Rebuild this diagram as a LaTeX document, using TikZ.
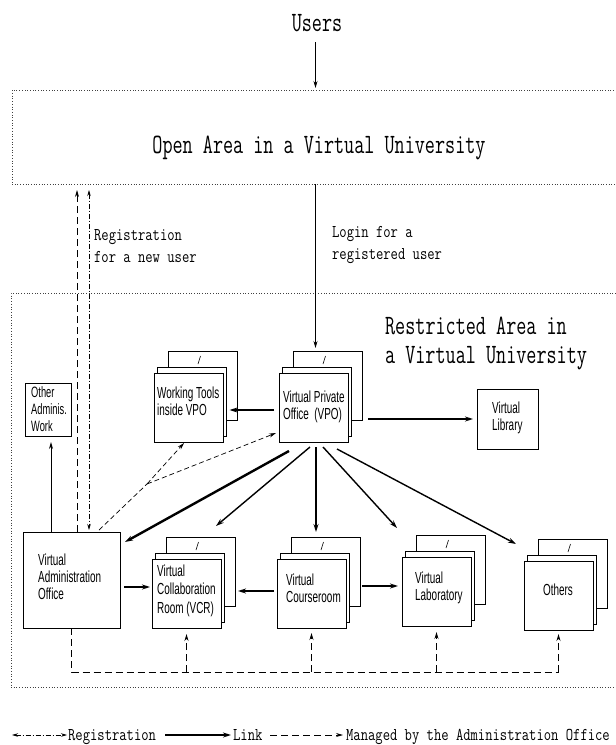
\documentclass[tikz,border=0pt]{standalone}
\usepackage{fontspec}
\newfontfamily\nsans[FakeStretch=0.62]{Liberation Sans}
\usetikzlibrary{arrows.meta,calc}
\tikzset{
 bx/.style={draw, fill=white, line width=0.8pt, minimum width=69pt, minimum height=69pt, inner sep=0pt, outer sep=0pt},
 sbox/.style={draw, fill=white, line width=0.8pt, inner sep=0pt, outer sep=0pt},
 area/.style={draw=black!75, dotted, line width=0.7pt, inner sep=0pt, outer sep=0pt},
 bigt/.style={font=\ttfamily\fontsize{28}{29}\selectfont, xscale=0.70, inner sep=0pt, align=left},
 smallt/.style={font=\ttfamily\fontsize{18}{22.5}\selectfont, xscale=0.79, inner sep=0pt, align=left},
 boxt/.style={font=\nsans\fontsize{16}{17.5}\selectfont, inner sep=0pt, align=left, anchor=base west},
 tip/.style={-{Stealth[length=7pt,width=4pt]}},
 thinarr/.style={tip, line width=0.8pt},
 link/.style={-{Stealth[length=8pt,width=5pt]}, line width=2pt},
 midlink/.style={-{Stealth[length=8pt,width=5pt]}, line width=1.4pt},
 reg/.style={dash pattern=on 5pt off 2pt on 1pt off 2pt, line width=0.7pt},
 mng/.style={dash pattern=on 7pt off 4pt, line width=0.8pt},
 mngs/.style={dash pattern=on 5pt off 3pt, line width=0.7pt},
}
\newcommand\mystack[3]{%
 \node[bx, anchor=north west] (#1-b) at (#2+14,#3-22) {};
 \node[bx, anchor=north west] (#1-m) at (#2+3.5,#3-5.5) {};
 \node[bx, anchor=north west] (#1) at (#2,#3) {};
 \draw[line width=0.6pt] (#2+44,#3-9) -- (#2+46.5,#3-17);
}
\begin{document}
\begin{tikzpicture}[x=1pt,y=-1pt]
\useasboundingbox (0,0) rectangle (616,745);
\clip (0,0) rectangle (616,745);
\fill[white] (0,0) rectangle (616,745);

% areas (multi-line nodes: base anchor = last line)
\node[area, minimum width=640pt, minimum height=94pt, anchor=north west] (open) at (12,90) {};
\node[bigt, anchor=base] (users) at (317,31) {Users};
\node[bigt, anchor=base] (opentxt) at (319,153) {Open Area in a Virtual University};
\node[area, minimum width=640pt, minimum height=394pt, anchor=north west] (restr) at (11,293) {};
\node[bigt, anchor=base west] (restrtxt) at (385,363) {Restricted Area in\\a Virtual University};
\node[smallt, anchor=base west] (regtxt) at (94,262.5) {Registration\\for a new user};
\node[smallt, anchor=base west] (logintxt) at (332,259.5) {Login for a\\registered user};

% stacks
\mystack{wt}{154}{373}
\mystack{vpo}{279}{373}
\mystack{vcr}{152}{559}
\mystack{vc}{277}{559}
\mystack{lab}{402}{557}
\mystack{oth}{524}{561}

% single boxes
\node[sbox, minimum width=46pt, minimum height=53pt, anchor=north west] (oaw) at (25,383) {};
\node[sbox, minimum width=61pt, minimum height=60pt, anchor=north west] (lib) at (477,389) {};
\node[sbox, minimum width=97pt, minimum height=96pt, anchor=north west] (vao) at (23,532) {};

% box texts
\node[boxt] (wttxt) at (157,415.5) {Working Tools\\inside VPO};
\node[boxt] (vpotxt) at (283,419.5) {Virtual Private\\Office~~(VPO)};
\node[boxt, font=\nsans\fontsize{16}{18.5}\selectfont] (vcrtxt) at (157,613) {Virtual\\Collaboration\\Room (VCR)};
\node[boxt] (vctxt) at (286,602.5) {Virtual\\Courseroom};
\node[boxt] (labtxt) at (415,600.5) {Virtual\\Laboratory};
\node[boxt, anchor=base] (othtxt) at (558,595) {Others};
\node[boxt, font=\nsans\fontsize{16}{17}\selectfont] (vaotxt) at (38,599) {Virtual\\Administration\\Office};
\node[boxt] (libtxt) at (492,430.5) {Virtual\\Library};
\node[boxt, font=\nsans\fontsize{15}{17}\selectfont] (oawtxt) at (31,431) {Other\\Adminis.\\Work};

% helper coordinates
\coordinate (cx) at (315.5,0);
\coordinate (r1) at (0,410);
\coordinate (r2) at (0,587);
\coordinate (r3) at (0,591);
\coordinate (r4) at (0,586);
\coordinate (ox) at (51,0);
\coordinate (rx) at (89,0);
\coordinate (mx) at (77,0);
\coordinate (br) at (147,484);
\coordinate (hb) at (0,672);

% top arrows
\draw[thinarr] ($(users.base -| cx)+(0,11)$) -- ($(open.north -| cx)+(0,-2)$);
\draw[thinarr] (open.south -| cx) -- ($(vpo-b.north -| cx)+(0,-3)$);

% links
\draw[link] ($(vpo.west |- r1)+(-5,0)$) -- ($(wt-m.east |- r1)+(3,0)$);
\draw[link] ($(vpo-b.east |- lib.west)+(6,0)$) -- ($(lib.west)+(-4,0)$);
\draw[link, line width=2.4pt] ($(vpo.south west)+(10,9)$) -- ($(vao.north east)+(5,10)$);
\draw[midlink] ($(vpo.south west)+(31,5)$) -- ($(vcr-b.north west)+(50,-11)$);
\draw[midlink, line width=1.1pt] ($(vpo.south west)+(37,5)$) -- ($(vc-b.north west)+(25,-5)$);
\draw[midlink] ($(vpo.south west)+(44,5)$) -- ($(lab-b.north west)+(-19,-7)$);
\draw[midlink] ($(vpo.south west)+(58,7)$) -- ($(oth-b.north west)+(-22,5)$);
\draw[link] ($(vao.east |- r2)+(4,0)$) -- ($(vcr.west |- r2)+(-2,0)$);
\draw[link] ($(vc.west |- r3)+(-3,0)$) -- ($(vcr-b.east |- r3)+(3,0)$);
\draw[link] ($(vc-b.east |- r4)+(2,0)$) -- ($(lab.west |- r4)+(-4,0)$);
\draw[thinarr] (vao.north -| ox) -- ($(oaw.south -| ox)+(0,6)$);

% registration and managed
\draw[reg, {Stealth[length=6pt,width=3.5pt]}-{Stealth[length=6pt,width=3.5pt]}] ($(open.south -| rx)+(0,6)$) -- ($(vao.north -| rx)+(0,-2)$);
\draw[mng, tip] (vao.north -| mx) -- ($(open.south -| mx)+(0,6)$);
\draw[mngs] ($(vao.north west)+(76,-2)$) -- (br);
\draw[mngs, tip] (br) -- ($(wt.south west)+(30,1)$);
\draw[mngs, tip] (br) -- ($(vpo.south west)+(-3,-9)$);

% bottom managed network
\draw[mng] (vao.south) -- (vao.south |- hb) -- (oth.south |- hb);
\draw[mng, tip] (oth.south |- hb) -- ($(oth.south)+(0,4)$);
\draw[mng, tip] (vcr.south |- hb) -- ($(vcr.south)+(0,6)$);
\draw[mng, tip] (vc.south |- hb) -- ($(vc.south)+(0,5)$);
\draw[mng, tip] (lab.south |- hb) -- ($(lab.south)+(0,6)$);

% legend
\node[smallt, anchor=base west] (lgreg) at (68,740) {Registration};
\node[smallt, anchor=base west] (lglink) at (233,740) {Link};
\node[smallt, anchor=base west] (lgman) at (346,740) {Managed by the Administration Office};
\coordinate (l1) at (12,735);
\coordinate (l2) at (165,735);
\coordinate (l3) at (270,735);
\draw[reg, {Stealth[length=6pt,width=3.5pt]}-{Stealth[length=6pt,width=3.5pt]}] (l1) -- ($(l1 -| lgreg.west)+(-1,0)$);
\draw[link] (l2) -- ($(l2 -| lglink.west)+(-2,0)$);
\draw[mng, tip] (l3) -- ($(l3 -| lgman.west)+(-3,0)$);
\end{tikzpicture}
\end{document}
